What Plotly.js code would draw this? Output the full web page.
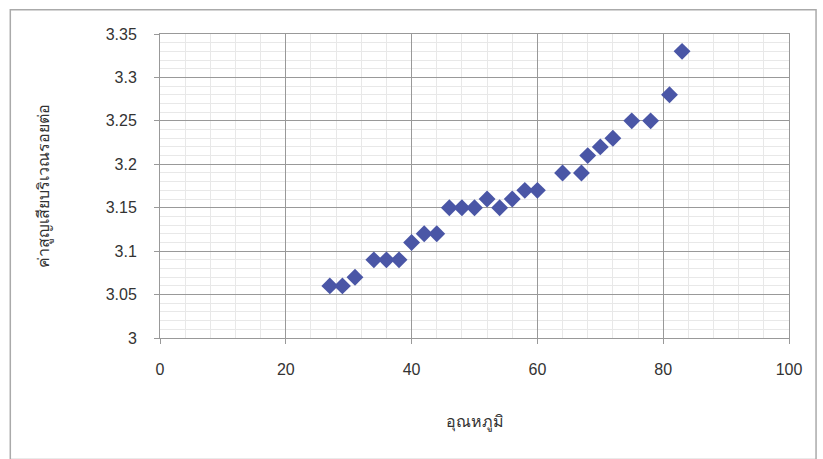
<!DOCTYPE html>
<html><head><meta charset="utf-8">
<script src="https://cdn.plot.ly/plotly-3.0.1.min.js"></script>
<style>html,body{margin:0;padding:0;background:#fff}#c{width:823px;height:459px}</style>
</head><body><div id="c"></div>
<script>
const temperature = [27,29,31,34,36,38,40,42,44,46,48,50,52,54,56,58,60,64,67,68,70,72,75,78,81,83];
const lossValue = [3.06,3.06,3.07,3.09,3.09,3.09,3.11,3.12,3.12,3.15,3.15,3.15,3.16,3.15,3.16,3.17,3.17,3.19,3.19,3.21,3.22,3.23,3.25,3.25,3.28,3.33];
const xTitle = 'อุณหภูมิ';
const yTitle = 'ค่าสูญเสียบริเวณรอยต่อ';
const tickFont = {family:'"Liberation Sans Narrow","Liberation Sans",Arial,sans-serif', size:16, color:'#333'};
const titleFont = {family:'"Noto Sans","DejaVu Sans",sans-serif', size:16, color:'#333'};
const trace = {x: temperature, y: lossValue, type:'scatter', mode:'markers',
  marker:{symbol:'diamond', size:13, color:'#4a56a6'}};
const layout = {
  width:823, height:459, margin:{l:160, r:34, t:34, b:121},
  paper_bgcolor:'#fff', plot_bgcolor:'#fff', showlegend:false,
  xaxis:{range:[0,100], dtick:20, tick0:0, showgrid:true, gridcolor:'#999', gridwidth:1,
    minor:{dtick:4, showgrid:true, gridcolor:'#e8e8e8', gridwidth:1},
    zeroline:false, showline:true, linecolor:'#999', mirror:true,
    ticks:'outside', ticklen:5, tickcolor:'#999', ticklabelstandoff:12,
    tickfont:tickFont, title:{text:xTitle, font:titleFont, standoff:38}},
  yaxis:{range:[3,3.35], dtick:0.05, tick0:3, showgrid:true, gridcolor:'#999', gridwidth:1,
    minor:{dtick:0.01, showgrid:true, gridcolor:'#e8e8e8', gridwidth:1},
    zeroline:false, showline:true, linecolor:'#999', mirror:true,
    ticks:'outside', ticklen:5, tickcolor:'#999', ticklabelstandoff:14,
    tickfont:tickFont, title:{text:yTitle, font:titleFont, standoff:52}},
  shapes:[{type:'rect', xref:'paper', yref:'paper', x0:-0.238, x1:1.043, y0:-0.40, y1:1.08,
    line:{color:'#aaa', width:1.5}, fillcolor:'rgba(0,0,0,0)'}]
};
Plotly.newPlot('c',[trace],layout,{displayModeBar:false, staticPlot:true});
</script></body></html>
